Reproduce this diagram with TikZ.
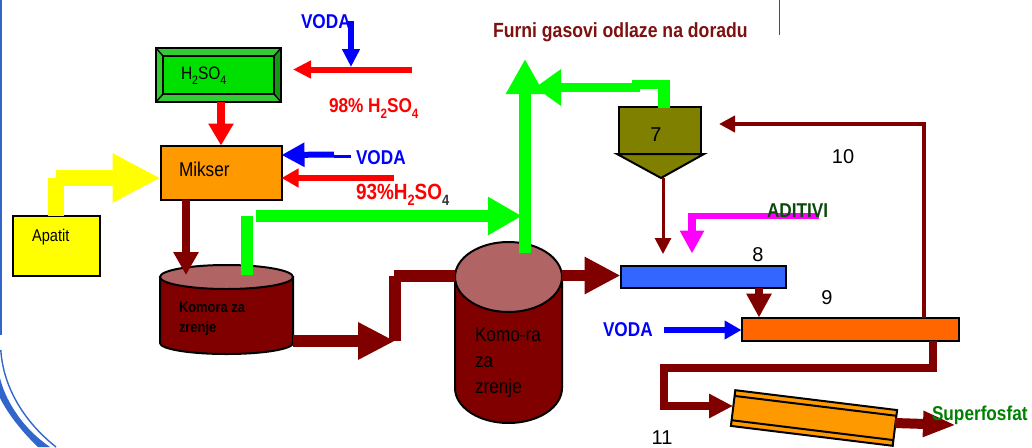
\documentclass[tikz,border=0pt]{standalone}
\usepackage{fontspec}
\setmainfont{Liberation Sans}[FakeStretch=0.86]
\newfontfamily\plainf{Liberation Sans}
\usetikzlibrary{arrows.meta,calc,shapes.geometric}
\definecolor{dred}{HTML}{800000}
\definecolor{topred}{HTML}{B06464}
\definecolor{acidface}{HTML}{00E000}
\definecolor{acidtop}{HTML}{33CC33}
\definecolor{acidside}{HTML}{119911}
\definecolor{lime}{HTML}{00FF00}
\definecolor{orangeA}{HTML}{FF9900}
\definecolor{orangeB}{HTML}{FF6600}
\definecolor{olivec}{HTML}{808000}
\definecolor{blueb}{HTML}{3366FF}
\definecolor{edgeblue}{HTML}{3366CC}
\definecolor{furni}{HTML}{7F1010}
\definecolor{aditiv}{HTML}{0B4A0B}
\definecolor{superf}{HTML}{008000}
\definecolor{pureyellow}{HTML}{FFFF00}
\definecolor{puremagenta}{HTML}{FF00FF}
\definecolor{purered}{HTML}{FF0000}
\definecolor{pureblue}{HTML}{0000FF}
\newcommand{\fs}[1]{\fontsize{#1}{#1}\selectfont}
\newcommand{\sbs}[1]{\raisebox{-0.3em}{\scalebox{0.68}{#1}}}
\tikzset{
  box/.style={draw=black,line width=2pt,inner sep=0pt,outer sep=0pt,rectangle},
  txt/.style={inner sep=0pt,outer sep=0pt,anchor=west,align=left},
  lab/.style={inner sep=0pt,outer sep=0pt,font=\plainf\fs{20}},
  flow/.style n args={3}{line width=#1pt,-{Triangle[length=#2pt,width=#3pt]}},
  pipe/.style={line width=#1pt}
}
\begin{document}
\begin{tikzpicture}[x=1pt,y=-1pt,line join=miter]
\path[use as bounding box,fill=white] (0,0) rectangle (1032,447);
% sheet edge
\fill[edgeblue] (0,0) rectangle (1.6,335);
\draw[edgeblue,line width=1.4pt] (0.8,350) .. controls (3,385) and (22,420) .. (56,447);
\fill[edgeblue] (0,378) .. controls (4,395) and (18,425) .. (50,447) -- (38,447) .. controls (18,428) and (6,410) .. (0,398) -- cycle;
\draw[gray!60!black,line width=1pt] (779,0) -- (779,35);

% H2SO4 tank with bevel
\node[box,fill=acidtop,minimum width=125,minimum height=54] (acidbox) at (218.5,75) {};
\fill[acidside] (acidbox.north east) -- (acidbox.south east) -- ($(acidbox.south east)+(-7pt,8pt)$) -- ($(acidbox.north east)+(-7pt,-8pt)$) -- cycle;
\draw[black,line width=2pt] (acidbox.north west) rectangle (acidbox.south east);
\draw[black,line width=2pt,fill=acidface] ($(acidbox.north west)+(7pt,-8pt)$) rectangle ($(acidbox.south east)+(-7pt,8pt)$);
\draw[black,line width=1.4pt] (acidbox.north west) -- ++(7pt,-8pt) (acidbox.north east) -- ++(-7pt,-8pt) (acidbox.south west) -- ++(7pt,8pt) (acidbox.south east) -- ++(-7pt,8pt);
\node[txt,font=\fs{18}] (acidtxt) at (181,76) {H\sbs{2}SO\sbs{4}};

% Mikser
\node[box,fill=orangeA,minimum width=121,minimum height=54] (mix) at (221,172.5) {};
\node[txt,font=\fs{20}] (mixtxt) at (179,169) {Mikser};

% Apatit
\node[box,fill=pureyellow,minimum width=87,minimum height=60] (apatit) at (56,245.5) {};
\node[txt,font=\fs{17}] (apatittxt) at (32,237) {Apatit};

% Komora 1
\node[inner sep=0pt,minimum width=133,minimum height=89] (t1) at (226.5,309.5) {};
\filldraw[fill=dred,draw=black,line width=2pt] (160,277) -- (160,343) arc[start angle=180,end angle=360,x radius=66.5pt,y radius=11pt] -- (293,277) -- cycle;
\node[ellipse,draw=black,line width=2pt,fill=topred,inner sep=0pt,minimum width=133,minimum height=24] (t1top) at (226.5,277) {};
\node[txt,font=\bfseries\fs{15},text=black] (t1txt) at (179,319) {Komora za\\[5pt]zrenje};

% Komora 2
\node[inner sep=0pt,minimum width=107,minimum height=181] (t2) at (508.5,332.5) {};
\filldraw[fill=dred,draw=black,line width=2pt] (455,277) -- (455,388) arc[start angle=180,end angle=360,x radius=53.5pt,y radius=35pt] -- (562,277) -- cycle;
\node[ellipse,draw=black,line width=2pt,fill=topred,inner sep=0pt,minimum width=107,minimum height=70] (t2top) at (508.5,277) {};
\node[txt,font=\fs{20},text=black] (t2txt) at (475,362.5) {Komo-ra\\[6pt]za\\[6pt]zrenje};

% Cyclone 7
\node[box,fill=olivec,minimum width=82,minimum height=47] (cyc) at (660,130.5) {};
\filldraw[fill=olivec,draw=black,line width=2pt] (617,154) -- (704,154) -- (661,178) -- cycle;
\coordinate (cyctip) at (662,178);
\node[lab] (n7) at (656,135) {7};

% Reactors 8, 9
\node[box,fill=blueb,minimum width=165,minimum height=22] (b8) at (703,276.5) {};
\node[lab] (n8) at (758,255) {8};
\node[box,fill=orangeB,minimum width=217,minimum height=23] (b9) at (850,329) {};
\node[lab] (n9) at (827,298) {9};
\node[lab] (n10) at (843,157) {10};
\node[lab,anchor=base] (n11) at (662,444) {11};

% Drum
\node[box,fill=orangeA,minimum width=163,minimum height=36,rotate=-7] (drum) at (814,418) {};
\draw[black,line width=2pt] ($(drum.north west)!0.16!(drum.south west)$) -- ($(drum.north east)!0.16!(drum.south east)$);
\draw[black,line width=2pt] ($(drum.north west)!0.84!(drum.south west)$) -- ($(drum.north east)!0.84!(drum.south east)$);

% free ends
\coordinate (vodaIn) at (351,21);
\coordinate (acidIn) at (412,69.5);
\coordinate (acidOn) at (351,67);
\coordinate (wMix) at (351,156.5);
\coordinate (aMix) at (394,178);
\coordinate (gasTop) at (525,59);
\coordinate (addIn) at (819,216);
\coordinate (wIn) at (664,330);
\coordinate (recycle) at (719,124);

% red / blue feeds
\draw[flow={6}{18}{17},pureblue] (vodaIn) -- (acidOn);
\draw[flow={6}{18}{17},purered] (acidIn) -- (293,69.5);
\draw[flow={8}{22}{24},purered] (acidbox.south -| mix.north) -- (mix.north);
\draw[pipe=3,pureblue] (wMix) -- (334,156.5);
\draw[flow={6}{23}{23},pureblue] (334,154.5) -- (mix.east |- 0,155);
\draw[flow={6}{17}{18},purered] (aMix) -- (mix.east |- 0,178);

% yellow
\draw[pipe=16,pureyellow] (apatit.north -| 56,0) -- (56,178);
\draw[flow={16}{48}{46},pureyellow] (56,178) -- (mix.west |- 0,178);

% Mikser to Komora 1
\draw[flow={8}{23}{24},dred] (mix.south -| 186,0) -- (186,275);

% Komora 1 to Komora 2
\draw[flow={12}{37}{35},dred] (t1.east |- 0,341) -- (395,341);
\draw[pipe=12,dred] (395,341) -- (395,276);
\draw[pipe=12,dred] (394,276) -- (t2.west |- 0,276);

% gases
\draw[pipe=12,lime] (247,275) -- (247,216);
\draw[flow={12}{34}{36},lime] (256,216) -- (522,216);
\draw[flow={12}{35}{36},lime] (525,253) -- (gasTop);
\draw[pipe=12,lime] (664,108) -- (664,86);
\draw[pipe=9,lime] (670,84.5) -- (632,84.5);
\draw[flow={9}{26}{35},lime] (640,87.5) -- (535,87.5);

% Komora 2 to 8
\draw[flow={11}{36}{35},dred] (t2.east |- 0,275.5) -- (b8.west |- 0,275.5);

% 7 to 8, additives
\draw[flow={3}{16}{16},dred] (cyctip -| 663,0) -- (663,254);
\draw[pipe=6,puremagenta] (addIn) -- (689,216);
\draw[flow={8}{23}{23},puremagenta] (692,213) -- (692,253.5);

% 8 to 9, water, recycle
\draw[flow={8}{24}{24},dred] (b8.south -| 759,0) -- (b9.north -| 759,0);
\draw[flow={6}{17}{18},pureblue] (wIn) -- (b9.west |- wIn);
\draw[line width=4pt,dred,-{Triangle[length=16pt,width=16pt]}] (b9.north -| 924,0) -- (924,124) -- (recycle);

% 9 to drum
\draw[line width=8pt,dred,-{Triangle[length=24pt,width=23pt]}] (b9.south -| 933,0) -- (933,368) -- (664,368) -- (664,406) -- (733,406);
% drum out
\draw[flow={10}{33}{24},dred] (drum.east |- 0,423) -- (956,425);

% labels
\node[txt,font=\bfseries\fs{20},text=pureblue] (l1) at (301,22) {VODA};
\node[txt,font=\bfseries\fs{20},text=pureblue] (l2) at (356,158) {VODA};
\node[txt,font=\bfseries\fs{20},text=pureblue] (l3) at (603,330) {VODA};
\node[txt,font=\bfseries\fs{20},text=purered] (l4) at (329,109) {98\% H\sbs{2}SO\sbs{4}};
\node[txt,font=\bfseries\fs{22},text=purered] (l5) at (356,195) {93\%H\sbs{2}SO\textcolor{black!80}{\sbs{4}}};
\node[txt,font=\bfseries\fs{20.5},text=furni] (l6) at (493,32) {Furni gasovi odlaze na doradu};
\node[txt,font=\bfseries\fs{20},text=aditiv] (l7) at (767,211) {ADITIVI};
\node[txt,font=\bfseries\fs{20},text=superf] (l8) at (932,415) {Superfosfat};
\end{tikzpicture}
\end{document}
